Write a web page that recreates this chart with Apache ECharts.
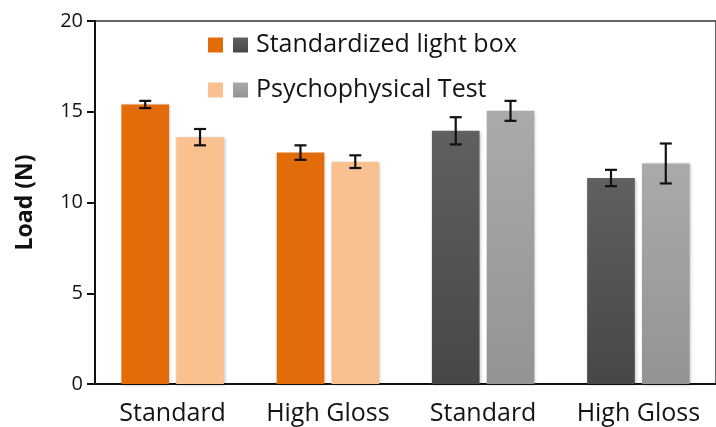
<!DOCTYPE html>
<html>
<head>
<meta charset="utf-8">
<script src="https://cdn.jsdelivr.net/npm/echarts@6/dist/echarts.min.js"></script>
<style>
  html, body { margin: 0; padding: 0; background: #fff; }
  #chart { width: 716px; height: 427px; }
</style>
</head>
<body>
<div id="chart"></div>
<script>
// data
var categories = ['Standard', 'High Gloss', 'Standard', 'High Gloss'];
var lightBox = [15.4, 12.75, 13.95, 11.35];
var lightBoxErr = [0.2, 0.4, 0.75, 0.45];
var psycho = [13.6, 12.25, 15.05, 12.15];
var psychoErr = [0.45, 0.35, 0.55, 1.1];
var yTicks = [0, 5, 10, 15, 20];

var orangeDark = '#E36C0A', orangeLight = '#F9C090';
var grayDark = new echarts.graphic.LinearGradient(0, 0, 0, 1, [
  {offset: 0, color: '#606060'}, {offset: 1, color: '#474747'}]);
var grayLight = new echarts.graphic.LinearGradient(0, 0, 0, 1, [
  {offset: 0, color: '#aaaaaa'}, {offset: 1, color: '#939393'}]);

var catGap = 0.34, barGap = 0.15;
var font = '"Open Sans", Lato, sans-serif';
var legendText = {fontFamily: font, fontSize: 25, color: '#141414', lineHeight: 30, padding: [0, 0, 0, 3]};

// split each measurement into an orange part (first two groups) and a gray part
function part(arr, from, to) {
  return arr.map(function (v, i) { return (i >= from && i < to) ? v : '-'; });
}

var barShadow = {shadowBlur: 3, shadowColor: 'rgba(0,0,0,0.25)', shadowOffsetX: 1, shadowOffsetY: 1};

function errSeries(vals, errs, side) {
  return {
    type: 'custom',
    z: 10,
    silent: true,
    data: vals.map(function (v, i) { return [i, v, errs[i]]; }),
    renderItem: function (params, api) {
      var i = api.value(0), v = api.value(1), e = api.value(2);
      var catW = api.size([1, 0])[0];
      var bw = catW * (1 - catGap) / (2 + barGap);
      var off = side * (bw * (1 + barGap)) / 2;
      var hi = api.coord([i, v + e]);
      var lo = api.coord([i, v - e]);
      var x = hi[0] + off;
      var cap = 6;
      var st = {stroke: '#111', lineWidth: 2.2};
      return {
        type: 'group',
        children: [
          {type: 'line', shape: {x1: x, y1: hi[1], x2: x, y2: lo[1]}, style: st},
          {type: 'line', shape: {x1: x - cap, y1: hi[1], x2: x + cap, y2: hi[1]}, style: st},
          {type: 'line', shape: {x1: x - cap, y1: lo[1], x2: x + cap, y2: lo[1]}, style: st}
        ]
      };
    }
  };
}

var myChart = echarts.init(document.getElementById('chart'));

var option = {
  animation: false,
  grid: {
    left: 95, top: 21, bottom: 43, right: -5,
    show: true, borderColor: '#333', borderWidth: 1.5
  },
  legend: [
    {
      // orange swatches, text is a blank so rows line up with the second legend
      orient: 'vertical', left: 203, top: 25, padding: 5,
      itemWidth: 15, itemHeight: 15, itemGap: 15,
      icon: 'rect', selectedMode: false,
      data: ['o-std', 'o-psy'],
      formatter: function () { return ' '; },
      textStyle: legendText
    },
    {
      orient: 'vertical', left: 228, top: 25, padding: 5,
      itemWidth: 15, itemHeight: 15, itemGap: 15,
      icon: 'rect', selectedMode: false,
      data: ['Standardized light box', 'Psychophysical Test'],
      textStyle: legendText
    }
  ],
  xAxis: {
    type: 'category',
    data: categories,
    axisLine: {lineStyle: {color: '#111', width: 2}},
    axisTick: {show: false},
    axisLabel: {interval: 0, hideOverlap: false, fontFamily: font, fontSize: 25, color: '#141414', margin: 17}
  },
  yAxis: {
    type: 'value',
    min: yTicks[0], max: yTicks[yTicks.length - 1], interval: 5,
    name: 'Load (N)',
    nameLocation: 'middle',
    nameGap: 58,
    nameTextStyle: {fontFamily: font, fontSize: 23, fontWeight: 'bold', color: '#111'},
    axisLine: {show: true, lineStyle: {color: '#111', width: 2}},
    axisTick: {show: true, inside: false, length: 8, lineStyle: {color: '#111', width: 2}},
    splitLine: {show: false},
    axisLabel: {fontFamily: font, fontSize: 20, color: '#141414', margin: 12}
  },
  series: [
    {
      name: 'o-std', type: 'bar', stack: 'std',
      barCategoryGap: (catGap * 100) + '%', barGap: (barGap * 100) + '%',
      itemStyle: Object.assign({color: orangeDark}, barShadow),
      data: part(lightBox, 0, 2)
    },
    {
      name: 'o-psy', type: 'bar', stack: 'psy',
      itemStyle: Object.assign({color: orangeLight}, barShadow),
      data: part(psycho, 0, 2)
    },
    {
      name: 'Standardized light box', type: 'bar', stack: 'std',
      itemStyle: Object.assign({color: grayDark}, barShadow),
      data: part(lightBox, 2, 4)
    },
    {
      name: 'Psychophysical Test', type: 'bar', stack: 'psy',
      itemStyle: Object.assign({color: grayLight}, barShadow),
      data: part(psycho, 2, 4)
    },
    errSeries(lightBox, lightBoxErr, -1),
    errSeries(psycho, psychoErr, 1)
  ]
};
myChart.setOption(option);
</script>
</body>
</html>
